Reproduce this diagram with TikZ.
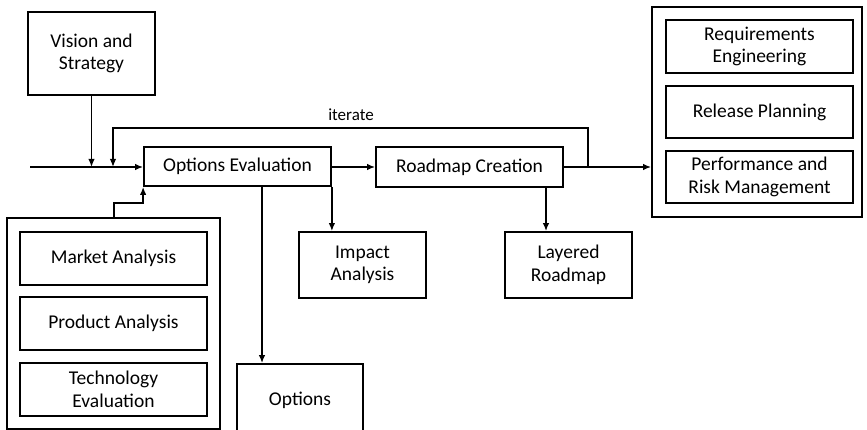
\documentclass[tikz,border=0pt]{standalone}
\usepackage{fontspec}
\setmainfont{Carlito}
\usetikzlibrary{arrows.meta}
\begin{document}
\begin{tikzpicture}[x=1pt,y=-1pt,
  font=\fontsize{19.5}{22.5}\selectfont,
  box/.style={draw, line width=1.8pt, align=center, inner sep=0pt},
  frame/.style={draw, line width=1.8pt},
  arr/.style={line width=1.5pt, -{Latex[length=8pt,width=6.5pt]}}]
\clip (0,0) rectangle (867,430);
\useasboundingbox (0,0) rectangle (867,430);

% main flow
\node[box, minimum width=127pt, minimum height=83pt] (vision) at (91.5,53.5) {Vision and\\Strategy};
\node[box, minimum width=187pt, minimum height=39pt] (opteval) at (237.5,166.5) {Options Evaluation};
\node[box, minimum width=187pt, minimum height=40pt] (roadmap) at (469.5,167) {Roadmap Creation};
\node[box, minimum width=127pt, minimum height=66pt] (impact) at (362.5,265) {Impact\\Analysis};
\node[box, minimum width=127pt, minimum height=66pt] (layered) at (568.5,265) {Layered\\Roadmap};
\node[box, minimum width=126pt, minimum height=72pt] (options) at (300,400) {Options};

% input group
\node[frame, minimum width=213pt, minimum height=211pt] (leftbox) at (113.5,323.5) {};
\node[box, minimum width=187pt, minimum height=53pt] (market) at (113.5,258.5) {Market Analysis};
\node[box, minimum width=187pt, minimum height=53pt] (product) at (113.5,323.5) {Product Analysis};
\node[box, minimum width=187pt, minimum height=53pt] (tech) at (113.5,389.5) {Technology\\Evaluation};

% output group
\node[frame, minimum width=210pt, minimum height=210pt] (rightbox) at (757,112) {};
\node[box, minimum width=187pt, minimum height=53pt] (req) at (759.5,46.5) {Requirements\\Engineering};
\node[box, minimum width=187pt, minimum height=52pt] (release) at (759.5,112) {Release Planning};
\node[box, minimum width=187pt, minimum height=52pt] (perf) at (759.5,177) {Performance and\\Risk Management};

% connectors
\coordinate (start) at (30,167);
\coordinate (loopR) at (588,167);
\coordinate (loopL) at (113,167);
\coordinate (toopt) at (262,186);
\coordinate (lbout) at (114,218);

\draw[arr] (start) -- (start -| opteval.west);
\draw[arr] (vision.south) -- (vision.south |- start);
\draw[arr] (opteval.east |- start) -- (roadmap.west |- start);
\draw[arr] (roadmap.east |- start) -- (rightbox.west |- start);
\draw[arr] (loopR) -- ++(0,-39) -| (loopL);
\node[font=\fontsize{17}{20}\selectfont] (iter) at (351,115) {iterate};
\draw[arr] (lbout) -- ++(0,-15) -| (opteval.south west);
\draw[arr] (toopt) -- (toopt |- options.north);
\draw[arr] (opteval.south east) -- (opteval.south east |- impact.north);
\draw[arr] (roadmap.south -| 546,0) -- (layered.north -| 546,0);
\end{tikzpicture}
\end{document}
